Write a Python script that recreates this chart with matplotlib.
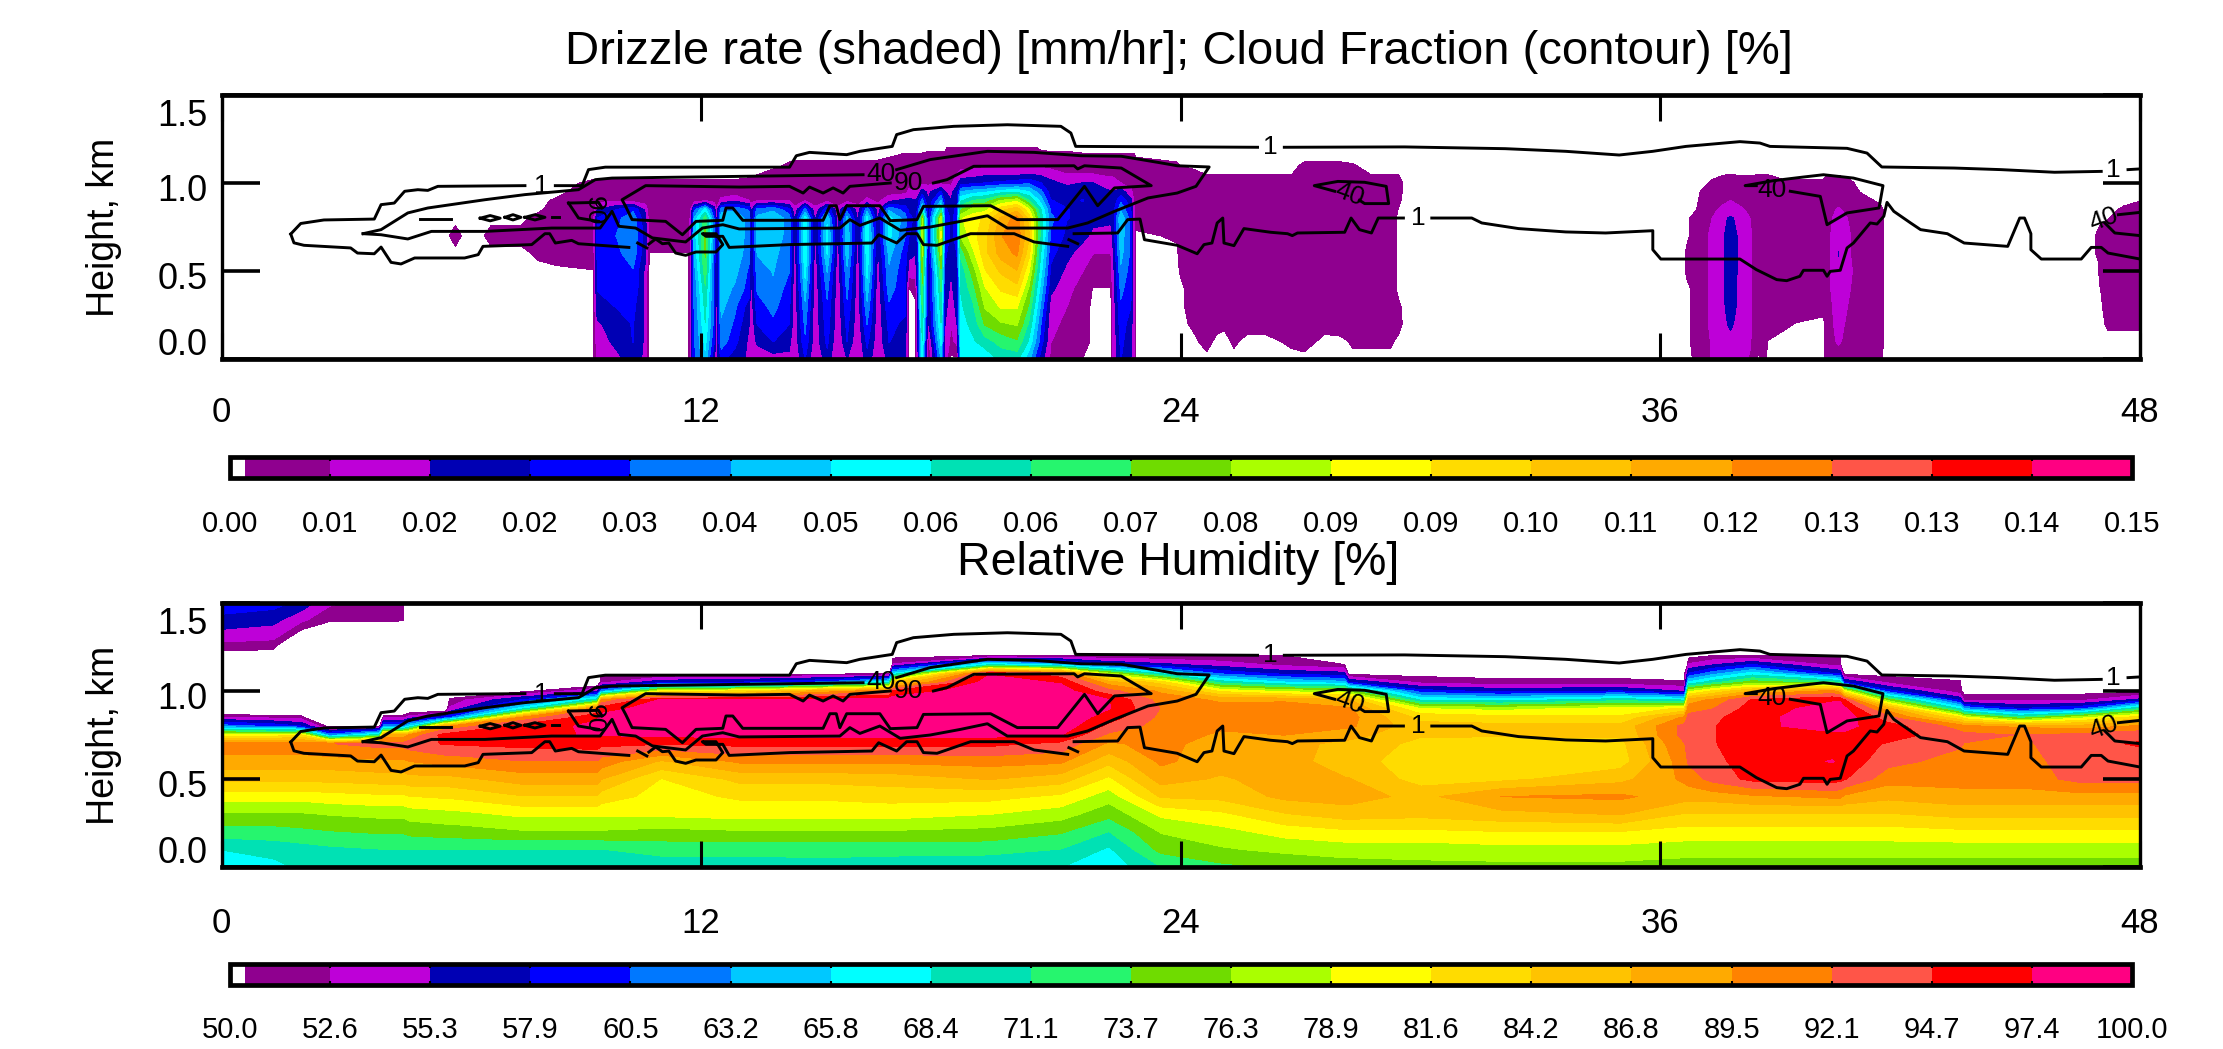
import matplotlib
matplotlib.use("Agg")
import matplotlib.pyplot as plt
from matplotlib.transforms import ScaledTranslation
import numpy as np

plt.rcParams['font.family'] = ['Liberation Sans', 'DejaVu Sans']

W, H = 2223, 1049

colors = ['#FFFFFF', '#8F008F', '#BE00D8', '#0000B4', '#0000FF', '#0078FF', '#00C8FF', '#00FFFF',
          '#00E1B4', '#26F56E', '#6FDC00', '#AAFF00', '#FFFF00', '#FFDC00', '#FFC300', '#FFAA00',
          '#FF8200', '#FF5548', '#FF0000', '#FF0082']

rate_ticks = np.linspace(0, 0.15, 20)
rh_ticks = np.linspace(50, 100, 20)
rate_levels = [0, 0.0012] + list(rate_ticks[1:])
rh_levels = [50, 50.4] + list(rh_ticks[1:])
xtick_vals = [0, 12, 24, 36, 48]
ytick_vals = [0.0, 0.5, 1.0, 1.5]

# drizzle rate, 1e-3 mm/hr, short rows are zero above their last value
rate_heights = [0, .1, .2, .3, .4, .5, .6, .7, .8, .85, .9, .95, 1.0, 1.05, 1.1, 1.15, 1.2]
rate_table = [
    (0.0, []), (5.6, []),
    (5.85, [0, 0, 0, 0, 0, 0, 0, 3]), (6.1, []), (6.45, []),
    (6.75, [0, 0, 0, 0, 0, 0, 0, 3]), (7.1, [0, 0, 0, 0, 0, 0, 0, 3]),
    (7.5, [0, 0, 0, 0, 0, 0, 0, 3]),
    (7.9, [0, 0, 0, 0, 0, 0, 2, 4, 3]),
    (8.4, [0, 0, 0, 0, 0, 0, 4, 4, 4, 4, 2]),
    (9.3, [0, 0, 0, 0, 0, 1, 4, 4, 5, 5, 5, 4, 2]),
    (9.4, [10, 12, 14, 22, 24, 24, 26, 26, 24, 16, 6, 4, 2]),
    (9.9, [14, 18, 22, 24, 26, 28, 30, 32, 30, 24, 6, 4, 2]),
    (10.3, [20, 24, 24, 26, 30, 31, 36, 38, 36, 30, 5, 4, 2]),
    (10.6, [14, 14, 14, 14, 14, 14, 18, 20, 18, 14, 4, 4, 2]),
    (10.7, [0, 0, 0, 0, 0, 0, 1, 4, 4, 4, 4, 4, 2]),
    (11.68, [0, 0, 0, 0, 0, 0, 1, 4, 4, 4, 4, 4, 2]),
    (11.74, [10, 10, 10, 10, 10, 10, 10, 10, 10, 8, 4, 4, 2]),
    (11.82, [30, 30, 30, 32, 32, 36, 40, 42, 40, 28, 4, 4, 2]),
    (12.1, [45, 50, 55, 58, 62, 68, 72, 74, 68, 50, 8, 4, 2]),
    (12.33, [16, 24, 28, 28, 28, 28, 30, 34, 30, 20, 5, 4, 2]),
    (12.38, [10, 12, 12, 12, 12, 12, 12, 12, 12, 8, 4, 4, 2]),
    (12.5, [26, 36, 38, 42, 44, 45, 45, 45, 45, 36, 10, 4, 2]),
    (12.85, [20, 26, 30, 33, 38, 42, 46, 46, 46, 38, 14, 4, 2]),
    (13.2, [14, 14, 16, 20, 28, 30, 34, 36, 36, 30, 8, 4, 3]),
    (13.24, [8, 8, 8, 10, 12, 12, 14, 16, 14, 12, 6, 4, 3]),
    (13.4, [8, 18, 24, 28, 33, 36, 40, 42, 42, 34, 8, 4, 4, 1]),
    (13.8, [12, 24, 30, 34, 38, 40, 42, 45, 46, 38, 8, 4, 4, 3]),
    (14.2, [14, 18, 24, 26, 28, 32, 34, 36, 36, 26, 8, 4, 4, 4, 2]),
    (14.34, [8, 10, 10, 10, 10, 10, 12, 14, 14, 10, 4, 4, 4, 4, 3]),
    (14.6, [24, 30, 34, 38, 44, 50, 54, 54, 52, 34, 8, 4, 4, 4, 3]),
    (14.85, [8, 10, 10, 10, 10, 10, 12, 14, 14, 10, 4, 4, 4, 4, 3]),
    (15.15, [20, 26, 28, 30, 34, 40, 48, 50, 46, 30, 6, 4, 4, 4, 3]),
    (15.42, [8, 8, 10, 10, 10, 10, 12, 14, 12, 10, 4, 4, 4, 4, 3]),
    (15.65, [16, 24, 26, 30, 34, 38, 44, 46, 42, 28, 6, 4, 4, 4, 3]),
    (15.92, [8, 8, 10, 10, 10, 10, 12, 14, 14, 12, 4, 4, 4, 4, 3]),
    (16.15, [20, 26, 32, 38, 44, 50, 52, 54, 50, 36, 10, 4, 4, 4, 3]),
    (16.42, [10, 10, 10, 10, 10, 12, 14, 16, 14, 12, 6, 4, 4, 4, 3]),
    (16.7, [18, 24, 26, 30, 36, 38, 42, 50, 50, 38, 14, 4, 4, 4, 4, 1]),
    (17.1, [16, 20, 22, 26, 24, 26, 28, 32, 36, 28, 18, 5, 4, 4, 4, 2]),
    (17.2, [0, 0, 0, 0, 1, 12, 18, 24, 26, 22, 18, 10, 4, 4, 4, 2]),
    (17.36, [0, 0, 0, 0, 3, 12, 16, 20, 22, 20, 16, 8, 4, 4, 4, 2]),
    (17.41, [10, 12, 14, 16, 18, 20, 22, 26, 28, 24, 18, 10, 4, 4, 4, 2]),
    (17.53, [50, 55, 60, 65, 70, 74, 80, 84, 80, 50, 35, 20, 5, 4, 4, 2]),
    (17.68, [0, 4, 14, 14, 14, 14, 18, 22, 20, 18, 16, 14, 6, 4, 4, 3]),
    (18.0, [40, 50, 55, 60, 64, 70, 80, 88, 84, 60, 40, 25, 6, 4, 4, 3]),
    (18.1, [12, 14, 16, 18, 20, 22, 26, 30, 30, 26, 20, 16, 6, 4, 4, 3]),
    (18.25, [0, 6, 8, 12, 14, 16, 18, 22, 22, 20, 16, 14, 6, 4, 4, 4, 4]),
    (18.4, [0, 10, 16, 18, 20, 22, 24, 26, 26, 26, 22, 20, 14, 8, 5, 4, 4]),
    (18.5, [50, 50, 52, 54, 56, 58, 66, 80, 86, 70, 54, 40, 20, 12, 5, 4, 4]),
    (18.8, [50, 54, 58, 62, 68, 75, 85, 92, 92, 82, 64, 44, 22, 12, 5, 4, 4]),
    (19.1, [48, 60, 72, 80, 86, 94, 100, 100, 96, 84, 66, 46, 24, 14, 6, 4, 4]),
    (19.5, [58, 66, 78, 88, 96, 104, 114, 118, 112, 100, 80, 52, 26, 14, 6, 4, 4]),
    (19.9, [58, 70, 80, 88, 100, 110, 120, 124, 122, 108, 85, 54, 28, 14, 6, 4, 4]),
    (20.2, [42, 54, 62, 70, 78, 88, 98, 104, 100, 88, 64, 48, 30, 16, 6, 4, 4]),
    (20.5, [20, 28, 32, 38, 44, 50, 55, 60, 60, 56, 44, 34, 24, 14, 6, 4]),
    (20.75, [6, 8, 10, 12, 18, 22, 26, 30, 34, 30, 24, 20, 18, 12, 5, 3]),
    (21.15, [5, 6, 6, 8, 10, 14, 18, 22, 24, 24, 22, 20, 14, 8, 5, 3]),
    (21.55, [1, 4, 4, 4, 5, 8, 12, 18, 22, 22, 24, 22, 16, 8, 5, 2]),
    (21.8, [0, 0, 0, 0, 1, 5, 8, 14, 18, 18, 20, 20, 16, 8, 5, 2]),
    (22.25, [0, 0, 0, 0, 1, 4, 8, 12, 18, 18, 18, 16, 12, 6, 4, 2]),
    (22.3, [8, 8, 10, 10, 12, 12, 14, 18, 20, 20, 18, 16, 12, 6, 4, 2]),
    (22.5, [24, 26, 28, 30, 34, 38, 42, 44, 46, 38, 30, 20, 8, 5, 4, 2]),
    (22.75, [16, 18, 20, 24, 26, 28, 30, 30, 28, 24, 18, 10, 5, 4, 4, 2]),
    (22.82, [10, 10, 10, 10, 10, 10, 10, 10, 10, 10, 8, 6, 4, 4, 4, 2]),
    (22.88, [0, 0, 0, 0, 0, 0, 0, 0, 4, 4, 4, 4, 4, 4, 4, 1]),
    (23.9, [0, 0, 0, 0, 0, 0, 0, 2, 4, 4, 4, 4, 4, 4, 2]),
    (24.0, [0, 0, 0, 0, 0, 2, 4, 4, 4, 4, 4, 4, 4, 4, 1]),
    (24.3, [0, 0, 2, 4, 4, 4, 4, 4, 4, 4, 4, 4, 4, 3]),
    (24.65, [0, 3, 4, 4, 4, 4, 4, 4, 4, 4, 4, 4, 4, 1]),
    (24.9, [0, 0, 3, 4, 4, 4, 4, 4, 4, 4, 4, 4, 4, 1]),
    (25.1, [0, 0, 2, 4, 4, 4, 4, 4, 4, 4, 4, 4, 4, 1]),
    (25.33, [0, 2, 4, 4, 4, 4, 4, 4, 4, 4, 4, 4, 4, 1]),
    (25.66, [0, 0, 3, 4, 4, 4, 4, 4, 4, 4, 4, 4, 4, 1]),
    (26.1, [0, 0, 3, 4, 4, 4, 4, 4, 4, 4, 4, 4, 4, 1]),
    (26.76, [0, 2, 4, 4, 4, 4, 4, 4, 4, 4, 4, 4, 4, 1]),
    (27.09, [0, 3, 4, 4, 4, 4, 4, 4, 4, 4, 4, 4, 4, 4, 2]),
    (27.6, [0, 0, 3, 4, 4, 4, 4, 4, 4, 4, 4, 4, 4, 4, 2]),
    (28.0, [0, 0, 4, 4, 4, 4, 4, 4, 4, 4, 4, 4, 4, 4, 2]),
    (28.3, [0, 2, 4, 4, 4, 4, 4, 4, 4, 4, 4, 4, 4, 4, 1.5]),
    (28.77, [0, 2, 4, 4, 4, 4, 4, 4, 4, 4, 4, 4, 4, 1]),
    (29.25, [0, 2, 4, 4, 4, 4, 4, 4, 4, 4, 4, 4, 4, 1]),
    (29.45, [0, 0, 3, 2, 0, 0, 0, 0, 0, 1, 2, 3, 4, 1]),
    (29.6, []), (36.6, []),
    (36.65, [0, 0, 0, 0, 0, 2, 2]),
    (36.9, [2, 3, 3, 3, 3, 4, 4, 4, 4, 1]),
    (37.06, [4, 4, 5, 5, 5, 5, 5, 5, 5, 5, 4, 2]),
    (37.3, [9, 9, 10, 10, 10, 10, 10, 10, 8, 6, 5, 4, 2]),
    (37.57, [12, 13, 14, 15, 15, 15, 15, 15, 14, 10, 6, 4, 3, 1]),
    (37.75, [12, 14, 17, 18, 19, 20, 20, 20, 17, 12, 8, 5, 4, 1]),
    (37.95, [12, 13, 14, 15, 15, 15, 15, 15, 14, 10, 6, 4, 3, 1]),
    (38.24, [7, 9, 10, 10, 10, 10, 10, 10, 8, 6, 5, 4, 3, 1]),
    (38.35, [4, 4, 5, 5, 5, 5, 5, 5, 4, 4, 4, 4, 3, 1]),
    (38.45, [0, 4, 4, 4, 4, 4, 4, 4, 4, 4, 4, 4, 4, 1]),
    (38.55, [3, 4, 4, 4, 4, 4, 4, 4, 4, 4, 4, 4, 4, 1]),
    (38.7, [0, 1, 4, 4, 4, 4, 4, 4, 4, 4, 4, 4, 4, 1]),
    (39.08, [0, 0, 2, 4, 4, 4, 4, 4, 4, 4, 4, 4, 2]),
    (39.41, [0, 0, 1, 4, 4, 4, 4, 4, 4, 4, 4, 4, 2]),
    (40.08, [0, 0, 0, 3, 4, 4, 4, 4, 4, 4, 4, 4, 2]),
    (40.17, [3, 4, 5, 5, 5, 5, 5, 5, 5, 4, 4, 4, 3, 1]),
    (40.45, [4, 9, 10, 11, 14, 15, 16, 14, 11, 9, 5, 4, 3, 1]),
    (40.75, [4, 5, 6, 7, 8, 9, 8, 8, 7, 5, 4, 4, 2]),
    (41.0, [3, 4, 4, 4, 4, 4, 4, 4, 4, 4, 4, 1]),
    (41.5, [2, 4, 4, 4, 4, 4, 4, 4, 4, 3]),
    (41.62, []), (46.8, []),
    (46.95, [0, 0, 0, 0, 0, 0, 2, 2]),
    (47.0, [0, 0, 0, 0, 1, 4, 4, 3]),
    (47.2, [0, 0, 2, 4, 4, 4, 4, 4, 1]),
    (47.6, [0, 0, 2, 4, 4, 4, 4, 4, 4, 2]),
    (48.0, [0, 0, 2, 4, 4, 4, 4, 4, 4, 4, 1]),
]

# relative humidity, %, short rows are below 50 (white) above their last value
rh_heights = [0, .1, .2, .3, .4, .5, .6, .7, .75, .8, .85, .9, .95, 1.0, 1.05, 1.1, 1.15, 1.2, 1.25, 1.3, 1.4, 1.5]
X = 40
rh_table = [
    (0.0, [66, 68.5, 72.5, 76, 80, 85, 88.5, 91, 80, 62, 53, 45, X, X, X, X, X, 49, 51.5, 53.5, 57, 59.5]),
    (1.3, [67.5, 69.5, 72.5, 76, 80, 85, 88.5, 91, 80, 60, 52, 45, X, X, X, X, X, 49, 51, 53, 56, 59]),
    (2.0, [69, 70, 73, 76, 80, 85, 88.5, 91, 82, 58, 51.5, 45, X, X, X, X, X, X, X, 48, 53, 57]),
    (2.7, [69, 70.5, 73.5, 76.5, 80.5, 85, 88.5, 92, 62, 49.5, X, X, X, X, X, X, X, X, X, X, 51, 53]),
    (3.95, [69, 71, 74, 77, 81, 85.5, 89, 93, 70, 50, X, X, X, X, X, X, X, X, X, X, 50.8, 51.5]),
    (4.05, [69, 71, 74, 77, 81, 85.5, 89, 93, 88, 62, 52, 46, X, X, X, X, X, X, X, X, 50.8, 51.5]),
    (4.55, [69, 71, 74, 77, 81, 85.5, 89, 93, 88, 62, 52, 46, X, X, X, X, X, X, X, X, 50.6, 51]),
    (4.7, [69, 71, 74.5, 77.5, 81.5, 86, 89.5, 93.5, 90, 66, 54, 47]),
    (5.6, [69, 71, 75, 78, 82, 86, 90.5, 95, 96, 90, 59, 47]),
    (5.7, [69, 71, 75, 78, 82, 86, 90.5, 95, 96, 90, 60, 53, 51, 47]),
    (7.5, [69, 71, 76, 79.5, 84, 88, 92, 95.5, 97, 96, 90, 67, 58, 49.5]),
    (9.4, [69, 71, 76, 79.5, 84, 88, 92, 96, 97.5, 98, 97, 92, 70, 55, 47]),
    (9.5, [69, 71, 76, 79.5, 83, 87, 91, 95.5, 97.5, 98.5, 98.5, 96, 90, 62, 52, 49.5]),
    (11.0, [69.5, 72, 75.5, 79.5, 80.5, 81.5, 86.5, 95, 98, 99, 99, 99, 97.8, 80, 57, 49.5]),
    (13.0, [69.5, 72, 76, 80, 82, 85, 90, 95.5, 98, 99, 99.5, 99.5, 98.5, 82, 58, 49.5]),
    (15.0, [70, 72, 76, 80, 82, 85, 90, 95.5, 98, 99, 99.5, 99.5, 98, 88, 61, 49.5]),
    (16.7, [69.5, 72, 76, 80, 82.5, 85.5, 90, 95.5, 98, 99, 99.5, 99.5, 99, 91, 68, 49.5]),
    (16.8, [69.5, 72, 76, 80, 82.5, 85.5, 90, 95.5, 98, 99, 99.5, 99.5, 99, 95, 84, 66, 53, 49.5]),
    (19.2, [69, 72, 75.5, 79, 82.5, 87, 90.5, 95.5, 98, 99, 99.5, 99.5, 99.5, 99.5, 99, 97, 68, 50.5]),
    (21.0, [68.5, 71, 74, 77.5, 81, 85.5, 90, 94, 97.5, 99, 99.5, 99.5, 99.5, 99, 97, 93, 64, 50.5]),
    (22.2, [66.5, 68, 71, 74.5, 77.5, 81, 85, 89, 91.5, 94, 96, 97.5, 97.5, 93, 88, 77, 58, 50.5]),
    (23.5, [71, 74.5, 76.5, 79.5, 84.5, 88, 90, 90.5, 91, 91, 91.5, 92, 91, 89, 83, 68, 56, 50.5]),
    (25.0, [73, 76, 78, 81, 85, 86.5, 88, 88, 89, 90, 90.5, 90.5, 89, 81, 70, 60, 54, 50.5]),
    (26.6, [74, 77, 80, 84, 87.5, 88, 88, 88, 89.5, 90.5, 91, 91, 89, 78, 66, 57, 52, 50.5]),
    (28.1, [75, 77.5, 81, 85.5, 88, 87, 85.5, 86, 88, 90, 90.5, 90, 87, 77, 64, 56, 50.5]),
    (28.2, [75, 77.5, 81, 85.5, 88, 87, 85.5, 86, 88, 90, 90.5, 90, 87, 75, 58, 49.5]),
    (30.0, [75.5, 77.5, 81, 85, 86, 83, 82.5, 83.5, 84.5, 85, 83.5, 79, 68, 59, 52, 49.5]),
    (32.0, [75.5, 78, 81.5, 86, 89.5, 83.5, 82.5, 83, 84.5, 85, 82.5, 78, 67, 57, 51, 49.5]),
    (35.0, [75.5, 78, 81.5, 87, 90, 86, 83, 83.5, 84.5, 85, 82, 80, 70, 58, 51, 49.5]),
    (36.6, [75, 77.5, 80.5, 84, 88, 90, 91, 92, 93, 93, 90, 82, 68, 55, 50.6, 49.5]),
    (36.7, [75, 77.5, 80.5, 84, 88, 90.5, 92.5, 93, 93, 93, 93, 91, 88, 78, 66, 58, 53, 49.5]),
    (37.3, [75, 77.5, 80.5, 84, 88, 93, 94, 94.5, 94.5, 94.5, 94, 92, 90, 82, 70, 62, 55, 50.5]),
    (38.3, [75, 77.5, 80.5, 84, 89, 95.5, 96, 96.5, 97, 97, 96.5, 96, 95, 87, 75, 67, 58, 50.5]),
    (40.3, [75, 77.5, 80.5, 84, 90, 96, 97.5, 96, 97, 98, 99, 98.5, 97, 90, 72, 58, 52, 50.5]),
    (40.5, [75, 77.5, 80.5, 84, 90, 95.5, 97, 96, 97, 98, 99, 98.5, 97, 88, 70, 57, 52, 50.5]),
    (40.6, [75, 77.5, 80.5, 84, 89, 95, 96.5, 96, 97, 98, 99, 98, 95, 80, 58, 49.5]),
    (41.7, [75, 77.5, 80.5, 84, 87.5, 90.5, 93, 94.5, 96, 96, 93, 88, 75, 59, 52, 49.5]),
    (43.5, [75, 77.5, 81, 85, 88.5, 90.5, 91, 92.5, 93, 91, 82, 68, 57, 51, 50.6, 49.5]),
    (43.6, [75, 77.5, 81, 85, 88.5, 90.5, 91, 92, 93, 90, 80, 63, 52, 49.5]),
    (45.0, [75, 77.5, 81, 85, 88.5, 90.5, 91, 91.5, 92, 89, 72, 58, 52, 49.5]),
    (46.5, [75, 77.5, 81, 85, 88.5, 93, 93.5, 94, 93, 88, 78, 60, 52, 49.5]),
    (48.0, [75, 77.5, 81, 85, 88.5, 93, 93.5, 95, 94, 90, 83, 71, 56, 49.5]),
]

# cloud fraction contours, (hour, km)
cf1_top_a = [(1.73, .71), (1.98, .77), (2.56, .79), (3.82, .795), (3.99, .877), (4.32, .886), (4.58, .953), (4.91, .962),
             (5.16, .958), (5.41, .981), (7.59, .985)]
cf1_top_b = [(8.35, .985), (9.02, .985), (9.18, 1.076), (9.6, 1.09), (14.21, 1.09), (14.38, 1.155), (14.71, 1.174),
             (15.64, 1.161), (15.97, 1.18), (16.78, 1.208), (16.89, 1.275), (17.31, 1.303), (18.32, 1.322), (19.66, 1.331),
             (21.0, 1.322), (21.25, 1.284), (21.37, 1.208), (25.92, 1.203)]
cf1_top_c = [(26.59, 1.203), (29.6, 1.205), (32.12, 1.195), (33.63, 1.18), (34.97, 1.159), (35.81, 1.18), (36.64, 1.208),
             (37.99, 1.235), (38.49, 1.227), (38.74, 1.208), (40.67, 1.197), (41.17, 1.17), (41.54, 1.091), (43.35, 1.085),
             (44.52, 1.076), (45.86, 1.061), (47.03, 1.066)]
cf1_top_d = [(47.7, 1.076), (48, 1.08)]
cf1_low_a = [(1.73, .71), (1.81, .66), (2.06, .646), (3.23, .631), (3.4, .602), (3.82, .598), (3.99, .636), (4.24, .549),
             (4.49, .54), (4.83, .574), (6.08, .574), (6.42, .593), (6.54, .64), (7.76, .65), (8.09, .712), (8.21, .712),
             (8.35, .659), (8.76, .674), (8.93, .655), (10.19, .634)]
cf1_low_b = [(10.41, .659), (10.64, .631)]
cf1_low_c = [(10.69, .653), (10.86, .682), (11.03, .655), (11.19, .659), (11.36, .602), (11.61, .589), (11.87, .608),
             (12.37, .608), (12.54, .65), (12.37, .712), (12.03, .712), (12.12, .697), (12.54, .697), (12.7, .634),
             (14.21, .65), (16.27, .659), (16.44, .706), (16.89, .659), (17.14, .712), (17.4, .712), (17.56, .65), (17.9, .646),
             (18.74, .712), (19.83, .712), (20.33, .665), (21.17, .64)]
cf1_low_d = [(21.2, .678), (21.42, .655)]
cf1_low_e = [(21.33, .712), (22.42, .716), (22.67, .792), (22.98, .795), (23.09, .678), (23.91, .646), (24.41, .598),
             (24.58, .65), (24.78, .659), (24.91, .773), (25.05, .801), (25.08, .659), (25.33, .644), (25.58, .741), (26.25, .72),
             (26.67, .712), (26.79, .701), (26.92, .716), (28.1, .72), (28.26, .801), (28.47, .735), (28.77, .716), (28.94, .801),
             (29.57, .801)]
cf1_low_f = [(30.28, .801), (31.28, .801), (31.53, .773), (32.45, .741), (33.63, .722), (34.63, .716), (35.81, .729),
             (35.81, .621), (36.01, .568), (37.99, .568), (38.4, .508), (38.91, .451), (39.16, .445), (39.49, .47), (39.58, .504),
             (40.08, .504), (40.17, .47), (40.25, .498), (40.5, .504), (40.67, .631), (40.83, .659), (41.25, .773), (41.42, .767),
             (41.59, .811), (41.67, .89), (41.84, .839), (42.26, .773), (42.51, .735), (43.18, .712), (43.6, .659), (44.69, .64),
             (44.99, .801), (45.11, .801), (45.27, .712), (45.27, .621), (45.53, .568), (46.53, .568), (46.78, .634), (47.03, .634),
             (47.2, .602), (48, .568)]
cf40_a = [(3.54, .712), (3.99, .735), (4.66, .83), (5.16, .858), (6.59, .905), (7.59, .934), (8.93, .962), (9.35, 1.019),
          (9.77, 1.028), (16.05, 1.047)]
cf40_b = [(16.89, 1.076), (17.73, 1.133), (19.16, 1.18), (20.33, 1.174), (21.5, 1.155), (22.51, 1.152), (23.51, 1.114),
          (23.91, 1.098), (24.71, 1.091), (24.38, .981), (23.91, .943), (23.18, .915), (22.34, .839), (21.67, .773), (21.17, .744),
          (19.66, .744), (19.16, .814), (18.49, .782), (17.73, .75), (16.98, .731), (16.47, .801), (15.97, .759), (15.72, .792),
          (15.47, .744), (12.95, .739), (12.54, .763), (12.03, .744), (11.61, .665), (10.78, .688), (10.36, .744), (9.94, .754),
          (9.77, .839), (9.47, .744), (8.26, .744), (6.59, .725), (5.25, .725), (4.66, .682), (3.99, .706), (3.54, .712)]
cf90 = [(17.81, 1.0), (18.15, 1.019), (18.82, 1.095), (21.33, 1.098), (21.42, 1.08), (21.59, 1.098), (22.51, 1.085),
        (23.26, .985), (22.34, .972), (21.92, .871), (21.59, .981), (20.92, .792), (19.91, .792), (19.24, .871), (17.56, .867),
        (17.4, .792), (16.73, .786), (16.47, .871), (15.64, .871), (15.47, .792), (15.38, .871), (15.22, .871), (15.05, .788),
        (13.04, .788), (12.79, .858), (12.62, .858), (12.54, .788), (11.87, .782), (11.53, .706), (11.11, .782), (10.27, .792),
        (10.11, .867), (10.02, .905), (10.61, .985), (12.95, .977), (14.21, .981), (14.55, .943), (14.71, .977), (15.05, .943),
        (15.3, .972), (15.55, .943), (15.72, .981), (16.73, 1.0)]
cf90_small = [(8.68, .886), (9.43, .89), (9.52, .858)]
cf90_small_b = [(9.43, .782), (8.93, .801), (8.68, .886)]
cf90_blob_a = [(4.96, .795), (5.75, .795)]
cf90_blob_b = [(6.47, .8), (6.72, .815), (6.97, .8), (6.72, .785), (6.47, .8)]
cf90_blob_c = [(7.09, .805), (7.29, .82), (7.49, .805), (7.29, .79), (7.09, .805)]
cf90_blob_d = [(7.59, .805), (7.84, .82), (8.09, .805), (7.84, .79), (7.59, .805)]
cf90_blob_e = [(8.27, .805), (8.43, .805)]
cf40_c = [(28.47, .902), (28.6, .883), (29.2, .883), (29.14, .981), (28.6, 1.004), (27.93, 1.009), (27.34, .985), (27.85, .953)]
cf40_d = [(39.25, .953), (40, .924), (40.17, .763), (40.67, .83), (41.47, .858), (41.57, .985), (40.83, 1.028), (40.08, 1.047),
          (39.58, 1.034), (38.82, 1.013), (38.12, .985), (38.4, .985)]
cf40_e = [(47.46, .82), (48, .833)]
cf40_f = [(47.12, .773), (47.37, .716), (48, .701)]
cloud_lines = [cf1_top_a, cf1_top_b, cf1_top_c, cf1_top_d, cf1_low_a, cf1_low_b, cf1_low_c, cf1_low_d, cf1_low_e, cf1_low_f,
               cf40_a, cf40_b, cf90, cf90_small, cf90_small_b, cf90_blob_a, cf90_blob_b, cf90_blob_c, cf90_blob_d, cf90_blob_e,
               cf40_c, cf40_d, cf40_e, cf40_f]
# label x, y, text, rotation
cloud_labels = [(8.01, .985, '1', 0), (26.25, 1.203, '1', 0), (29.94, .801, '1', 0), (47.34, 1.072, '1', 0),
                (16.51, 1.053, '40', 0), (17.19, 1.0, '90', 0), (9.3, .84, '90', -90), (28.23, .934, '40', -20),
                (38.79, .962, '40', 0), (47.09, .795, '40', 20)]


def pad(rows, n, fill):
    return np.array([r + [fill] * (n - len(r)) for r in rows], dtype=float).T


def px_axes(left, top, right, bottom):
    return fig.add_axes([left / W, 1 - bottom / H, (right - left) / W, (bottom - top) / H])


def draw_panel(ax, hours, heights, field, levels, xpad):
    cf = ax.contourf(hours, heights, field, levels=levels, colors=colors)
    for line in cloud_lines:
        ax.plot([p[0] for p in line], [p[1] for p in line], color='k', lw=2.1, solid_joinstyle='round')
    for x, y, s, rot in cloud_labels:
        ax.text(x, y, s, fontsize=19, ha='center', va='center', rotation=rot)
    ax.set_xlim(0, 48)
    ax.set_ylim(0, 1.5)
    ax.set_xticks(xtick_vals)
    ax.set_yticks(ytick_vals)
    ax.set_yticklabels(['%.1f' % v for v in ytick_vals], fontsize=26)
    ax.set_xticklabels([str(v) for v in xtick_vals], fontsize=25)
    ax.tick_params(axis='x', direction='in', length=19, width=2.2, top=True, bottom=True, pad=xpad)
    ax.tick_params(axis='y', direction='in', length=27, width=2.6, left=True, right=True, pad=10)
    labs = ax.get_yticklabels()
    labs[0].set_va('bottom')
    labs[3].set_va('top')
    # labels sit a little low of their ticks
    for lab in labs:
        lab.set_transform(lab.get_transform() + ScaledTranslation(0, -3 / 72, fig.dpi_scale_trans))
    for s in ['top', 'bottom']:
        ax.spines[s].set_linewidth(3.4)
    for s in ['left', 'right']:
        ax.spines[s].set_linewidth(2.4)
    return cf


def draw_cbar(cf, cax, ticks, fmt, ypad):
    cb = fig.colorbar(cf, cax=cax, orientation='horizontal', spacing='proportional', ticks=ticks)
    cb.ax.set_xticklabels([fmt % t for t in ticks], fontsize=21)
    cb.ax.tick_params(axis='x', direction='in', length=3, width=1.5, top=True, bottom=True, pad=ypad)
    cb.ax.minorticks_off()
    cb.outline.set_linewidth(3.4)


fig = plt.figure(figsize=(W / 100, H / 100), dpi=100)

ax1 = px_axes(221.6, 95, 2140, 359)
rate_hours = [r[0] for r in rate_table]
rate = pad([r[1] for r in rate_table], len(rate_heights), 0) / 1000.0
cf1 = draw_panel(ax1, rate_hours, rate_heights, rate, rate_levels, 27)

ax2 = px_axes(221.6, 603, 2140, 867)
rh_hours = [r[0] for r in rh_table]
rh = pad([r[1] for r in rh_table], len(rh_heights), X)
cf2 = draw_panel(ax2, rh_hours, rh_heights, rh, rh_levels, 29)

cax1 = px_axes(230, 457, 2132, 478)
draw_cbar(cf1, cax1, rate_ticks, '%.2f', 23)
cax2 = px_axes(230, 964, 2132, 985)
draw_cbar(cf2, cax2, rh_ticks, '%.1f', 22)

fig.text(1179 / W, 1 - 52 / H, 'Drizzle rate (shaded) [mm/hr]; Cloud Fraction (contour) [%]',
         fontsize=34, ha='center', va='center')
fig.text(1178 / W, 1 - 563 / H, 'Relative Humidity [%]', fontsize=33.5, ha='center', va='center')
fig.text(104 / W, 1 - 227 / H, 'Height, km', fontsize=27, rotation=90, ha='center', va='center')
fig.text(104 / W, 1 - 735 / H, 'Height, km', fontsize=27, rotation=90, ha='center', va='center')

fig.savefig('out.png', dpi=100)
